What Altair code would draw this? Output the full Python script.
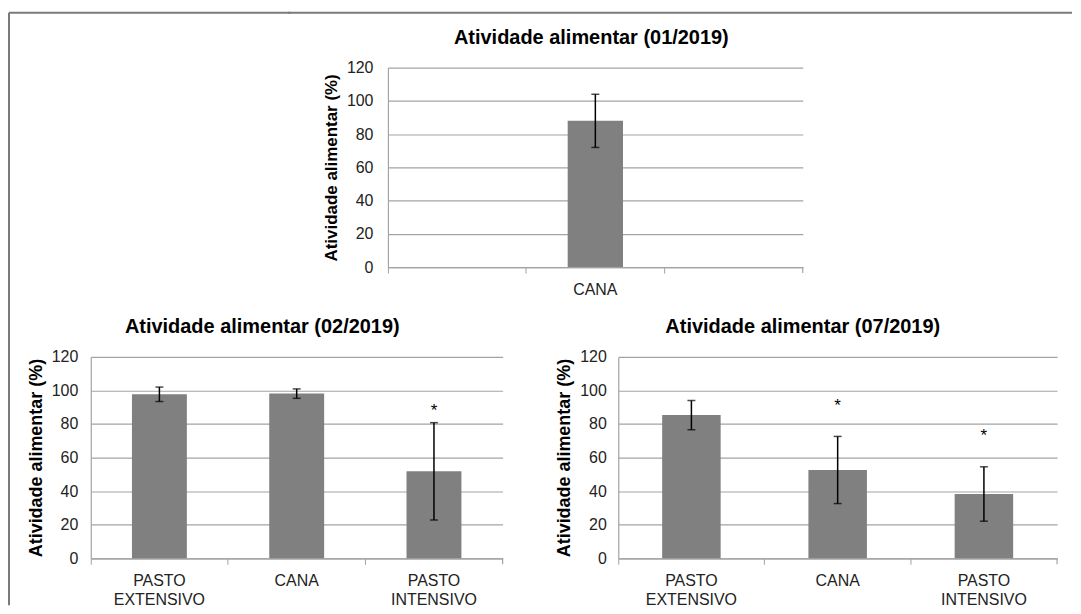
import altair as alt
import pandas as pd

# ---- data ----
cats = ["PASTO EXTENSIVO", "CANA", "PASTO INTENSIVO"]
jan_slots = ["", "CANA", " "]
jan_cats = ["CANA"]
jan_mean = [88.0]
jan_err = [16.0]
jan_star = [None]

feb_mean = [97.7, 98.1, 51.8]
feb_err = [4.3, 2.8, 29.0]
feb_star = [None, None, 90.0]

jul_mean = [85.3, 52.6, 38.3]
jul_err = [8.7, 20.0, 16.2]
jul_star = [None, 92.8, 75.0]

y_ticks = [0, 20, 40, 60, 80, 100, 120]
titles = ["Atividade alimentar (01/2019)", "Atividade alimentar (02/2019)", "Atividade alimentar (07/2019)"]
y_title = "Atividade alimentar (%)"

BAR = "#808080"
GRID = "#a3a3a3"
FRAME = "#7a7a7a"
FONT = "Liberation Sans"


def frame_layer(rules):
    one = pd.DataFrame({"k": [0]})
    out = []
    for (x1, x2, y1, y2) in rules:
        out.append(alt.Chart(one).mark_rule(color=FRAME, strokeWidth=2).encode(
            x=alt.value(x1), x2=alt.value(x2), y=alt.value(y1), y2=alt.value(y2)))
    return out


def panel(title, title_x, domain, cat_list, means, errs, stars, w, h, ytitle_size,
          ylabel_pad, frame_rules, label_expr):
    df = pd.DataFrame({
        "cat": cat_list,
        "mean": means,
        "lo": [m - e for m, e in zip(means, errs)],
        "hi": [m + e for m, e in zip(means, errs)],
        "star": stars,
    })
    sdf = df.dropna(subset=["star"])
    x = alt.X("cat:N", sort=domain,
              scale=alt.Scale(domain=domain, paddingInner=0, paddingOuter=0),
              axis=alt.Axis(title=None, bandPosition=0,
                            labelAngle=0, labelExpr=label_expr,
                            ticks=True, tickSize=6, tickColor=GRID, domainColor=GRID,
                            domainWidth=1.2, labelPadding=8, labelFontSize=16,
                            labelFont=FONT, labelColor="#222222", labelLineHeight=19,
                            grid=False))
    yscale = alt.Scale(domain=[0, 120], nice=False)
    yaxis = alt.Axis(values=y_ticks, title=y_title, titleFont=FONT,
                     titleFontSize=ytitle_size, titleFontWeight="bold",
                     titleColor="black", titlePadding=6, labelFont=FONT,
                     labelFontSize=16, labelColor="#222222", labelPadding=ylabel_pad,
                     ticks=False, grid=True, gridColor=GRID, gridWidth=1.2,
                     domainColor=GRID, domainWidth=1.2)
    base = alt.Chart(df)
    bars = base.mark_bar(color=BAR, width=alt.RelativeBandSize(0.4)).encode(
        x=x, y=alt.Y("mean:Q", scale=yscale, axis=yaxis))
    err = base.mark_rule(color="black", strokeWidth=1.5).encode(
        x=x, y=alt.Y("lo:Q", scale=yscale, axis=yaxis), y2="hi:Q")
    cap_hi = base.mark_tick(color="black", thickness=1.5, size=8).encode(
        x=x, y=alt.Y("hi:Q", scale=yscale, axis=yaxis))
    cap_lo = base.mark_tick(color="black", thickness=1.5, size=8).encode(
        x=x, y=alt.Y("lo:Q", scale=yscale, axis=yaxis))
    layers = [bars, err, cap_hi, cap_lo]
    if len(sdf):
        star = alt.Chart(sdf).mark_text(text="*", fontSize=17, font=FONT,
                                        baseline="alphabetic", dy=9,
                                        color="black").encode(
            x=x, y=alt.Y("star:Q", scale=yscale, axis=yaxis))
        layers.append(star)
    one = pd.DataFrame({"t": [title]})
    end_tick = alt.Chart(one).mark_rule(color=GRID, strokeWidth=1.2).encode(
        x=alt.value(w), y=alt.value(h), y2=alt.value(h + 6))
    layers.append(end_tick)
    ttl = alt.Chart(one).mark_text(font=FONT, fontSize=20, fontWeight="bold",
                                   color="black", align="center",
                                   baseline="middle").encode(
        text="t:N", x=alt.value(title_x), y=alt.value(-30))
    layers.append(ttl)
    layers += frame_layer(frame_rules)
    return alt.layer(*layers).properties(width=w, height=h)


SPLIT = "split(datum.label, ' ')"
SPACER_W = 200
LEFT_HANG = 100

spacer = alt.layer(*frame_layer([(-82, SPACER_W, -55, -55),
                                 (-82, -82, -55, 246)])).properties(
    width=SPACER_W, height=200)
top = panel(titles[0], 204, jan_slots, jan_cats, jan_mean, jan_err, jan_star,
            416, 200, 17, 15, [(-LEFT_HANG, 686, -55, -55)], "datum.label")
left = panel(titles[1], 172, cats, cats, feb_mean, feb_err, feb_star,
             413, 202, 18, 13, [(-82, -82, -46, 249)], SPLIT)
right = panel(titles[2], 185, cats, cats, jul_mean, jul_err, jul_star,
              440, 202, 18, 12, [], SPLIT)

top_row = alt.hconcat(spacer, top, spacing=-4)
bottom = alt.hconcat(left, right, spacing=52)
chart = alt.vconcat(top_row, bottom, spacing=-4).properties(
    padding={"left": 0, "top": 3, "right": 0, "bottom": 0},
    background="white",
).configure_view(strokeWidth=0)

chart.save("out.html", embed_options={"renderer": "svg", "actions": False})
